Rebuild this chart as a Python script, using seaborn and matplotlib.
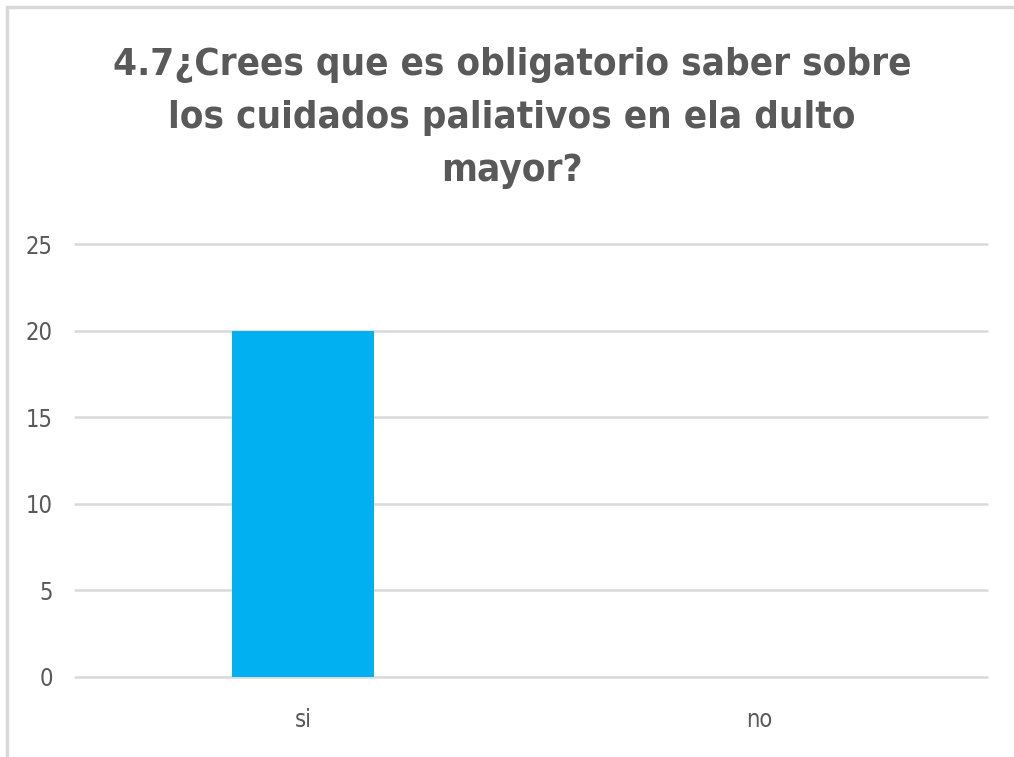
import matplotlib
matplotlib.use("Agg")
import matplotlib.pyplot as plt
import matplotlib.font_manager as fm
from matplotlib.patches import Rectangle
import seaborn as sns
import pandas as pd
import os

categories = ["si", "no"]
values = [20, 0]
yticks = [0, 5, 10, 15, 20, 25]
title_lines = ["4.7¿Crees que es obligatorio saber sobre",
               "los cuidados paliativos en ela dulto",
               "mayor?"]

sns.set_theme(style="white")

files = [f.fname for f in fm.fontManager.ttflist]


def find(cands):
    for c in cands:
        for f in files:
            if os.path.basename(f).lower() == c.lower():
                return f
    return None


bold_file = find(["LiberationSansNarrow-Bold.ttf", "DejaVuSansCondensed-Bold.ttf",
                  "RobotoCondensed-Bold.ttf", "LiberationSans-Bold.ttf"])
reg_file = find(["LiberationSansNarrow-Regular.ttf", "DejaVuSansCondensed.ttf",
                 "RobotoCondensed-Regular.ttf", "LiberationSans-Regular.ttf"])
title_fp = fm.FontProperties(fname=bold_file) if bold_file else fm.FontProperties(family="DejaVu Sans", weight="bold")
tick_fp = fm.FontProperties(fname=reg_file) if reg_file else fm.FontProperties(family="DejaVu Sans")

plt.rcParams["font.family"] = ["DejaVu Sans"]

df = pd.DataFrame({"cat": categories, "val": values})

W, H = 1014, 757
fig = plt.figure(figsize=(W / 100, H / 100), dpi=100)
ax = fig.add_axes([75 / W, (H - 677) / H, (987 - 75) / W, (677 - 244) / H])

sns.barplot(data=df, x="cat", y="val", color="#00b0f0", width=0.31, ax=ax,
            saturation=1, linewidth=0, zorder=3)

ax.set_ylim(0, 25)
ax.set_yticks(yticks)
ax.set_xlim(-0.5, 1.5)
ax.grid(axis="y", color="#d9d9d9", linewidth=1.8, zorder=0)
ax.set_axisbelow(True)
for gl in ax.get_ygridlines():
    gl.set_clip_on(False)
for s in ax.spines.values():
    s.set_visible(False)
ax.set_xlabel("")
ax.set_ylabel("")
ax.tick_params(axis="y", length=0, pad=16, labelcolor="#595959")
ax.tick_params(axis="x", length=0, pad=22, labelcolor="#595959")
for lab in ax.get_yticklabels() + ax.get_xticklabels():
    lab.set_fontproperties(tick_fp)
    lab.set_fontsize(17)
    lab.set_color("#595959")

baselines = [75, 128, 181]
texts = []
for line, yb in zip(title_lines, baselines):
    texts.append(fig.text(0.505, (H - yb) / H, line, ha="center", va="baseline",
                          fontproperties=title_fp, color="#595959"))
for t in texts:
    t.set_fontsize(31)
fig.canvas.draw()
w = texts[0].get_window_extent().width
fs = 31 * 800 / w
for t in texts:
    t.set_fontsize(fs)

fig.patches.append(Rectangle((7 / W, -0.1), 1.2, (H - 7) / H + 0.1,
                             transform=fig.transFigure, fill=False,
                             edgecolor="#d9d9d9", linewidth=2.5))

fig.savefig("out.png", dpi=100)
